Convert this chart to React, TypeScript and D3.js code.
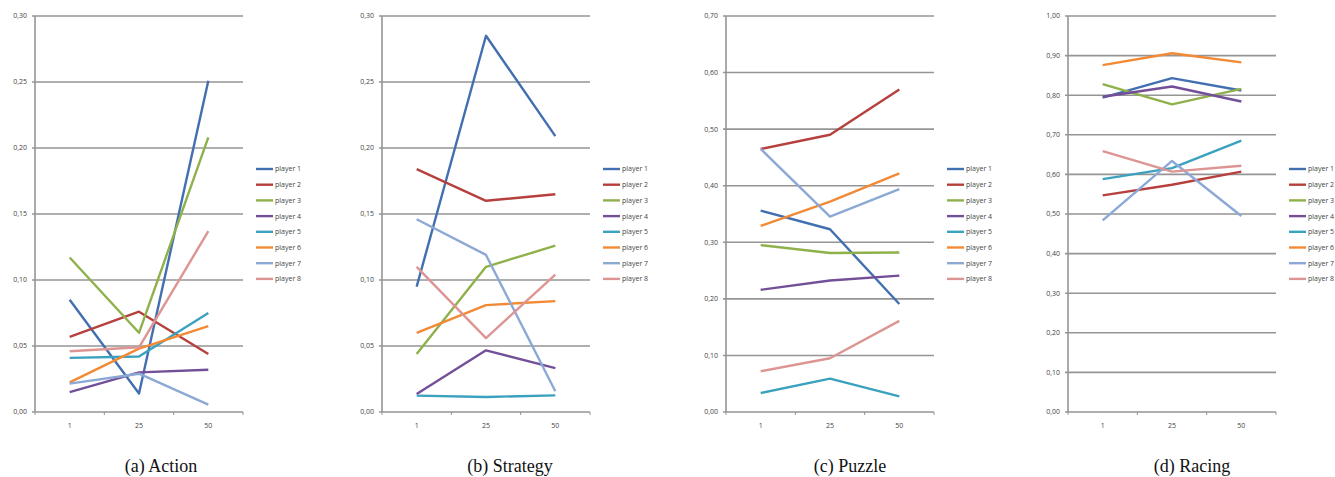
import React, { useEffect, useRef } from "react";
import * as d3 from "d3";

// x categories (rounds)
const rounds = ["1", "25", "50"];
const players = ["player 1", "player 2", "player 3", "player 4", "player 5", "player 6", "player 7", "player 8"];
const colors = ["#426FB0", "#B6403D", "#8FB14B", "#734F98", "#3AA1BE", "#F28A35", "#8CA9D6", "#DD9593"];

// values per player, one row per player: [round 1, round 25, round 50]
const actionValues = [
  [0.085, 0.014, 0.251],
  [0.057, 0.076, 0.044],
  [0.117, 0.06, 0.208],
  [0.015, 0.03, 0.032],
  [0.041, 0.042, 0.075],
  [0.0225, 0.048, 0.065],
  [0.0215, 0.029, 0.0056],
  [0.046, 0.049, 0.137],
];
const strategyValues = [
  [0.095, 0.285, 0.209],
  [0.184, 0.16, 0.165],
  [0.044, 0.11, 0.126],
  [0.0136, 0.0467, 0.0333],
  [0.0124, 0.0114, 0.0126],
  [0.06, 0.081, 0.084],
  [0.146, 0.119, 0.0157],
  [0.11, 0.056, 0.104],
];
const puzzleValues = [
  [0.356, 0.323, 0.191],
  [0.465, 0.49, 0.57],
  [0.295, 0.281, 0.282],
  [0.216, 0.2325, 0.241],
  [0.0335, 0.059, 0.0277],
  [0.329, 0.372, 0.422],
  [0.465, 0.3455, 0.394],
  [0.072, 0.095, 0.161],
];
const racingValues = [
  [0.794, 0.843, 0.812],
  [0.547, 0.574, 0.607],
  [0.828, 0.777, 0.816],
  [0.796, 0.822, 0.784],
  [0.588, 0.616, 0.685],
  [0.876, 0.906, 0.883],
  [0.484, 0.634, 0.495],
  [0.659, 0.607, 0.622],
];

const captions = ["(a) Action", "(b) Strategy", "(c) Puzzle", "(d) Racing"];
const yMaxes = [0.3, 0.3, 0.7, 1.0];
const yStepss = [0.05, 0.05, 0.1, 0.1];

const App = () => {
  const ref = useRef<SVGSVGElement>(null);

  useEffect(() => {
    const svg = d3.select(ref.current);
    svg.selectAll("*").remove();

    const allValues = [actionValues, strategyValues, puzzleValues, racingValues];
    const axisXs = [35, 382, 726, 1068];
    const captionXs = [161, 510, 850, 1192];
    const plotW = 208;
    const top = 16;
    const bottom = 412;
    const fmt = (v: number) => d3.format(".2f")(v).replace(".", ",");
    const font = "'Open Sans', 'Liberation Sans', sans-serif";

    allValues.forEach((values, i) => {
      const x0 = axisXs[i];
      const g = svg.append("g");

      const x = d3.scaleBand().domain(rounds).range([x0, x0 + plotW]);
      const y = d3.scaleLinear().domain([0, yMaxes[i]]).range([bottom, top]);
      const ticks = d3.range(0, yMaxes[i] + yStepss[i] / 2, yStepss[i]);

      // gridlines
      g.append("g")
        .selectAll("line")
        .data(ticks)
        .join("line")
        .attr("x1", x0 - 3)
        .attr("x2", x0 + plotW)
        .attr("y1", (d) => y(d))
        .attr("y2", (d) => y(d))
        .attr("stroke", "#959595")
        .attr("stroke-width", 1.6);

      // y axis line
      g.append("line")
        .attr("x1", x0)
        .attr("x2", x0)
        .attr("y1", top)
        .attr("y2", bottom)
        .attr("stroke", "#959595")
        .attr("stroke-width", 1.6);

      // x tick marks at band boundaries
      const bounds = rounds.map((r) => x(r)!).concat([x0 + plotW]);
      g.append("g")
        .selectAll("line")
        .data(bounds)
        .join("line")
        .attr("x1", (d) => d)
        .attr("x2", (d) => d)
        .attr("y1", bottom)
        .attr("y2", bottom + 3)
        .attr("stroke", "#959595")
        .attr("stroke-width", 1);

      // y labels
      g.append("g")
        .selectAll("text")
        .data(ticks)
        .join("text")
        .attr("x", x0 - 8)
        .attr("y", (d) => y(d))
        .attr("dy", "0.35em")
        .attr("text-anchor", "end")
        .style("font", `7px ${font}`)
        .attr("fill", "#444")
        .text((d) => fmt(d));

      // x labels
      g.append("g")
        .selectAll("text")
        .data(rounds)
        .join("text")
        .attr("x", (d) => x(d)! + x.bandwidth() / 2)
        .attr("y", 428)
        .attr("text-anchor", "middle")
        .style("font", `7px ${font}`)
        .attr("fill", "#444")
        .text((d) => d);

      // series
      const line = d3
        .line<number>()
        .x((_, j) => x(rounds[j])! + x.bandwidth() / 2)
        .y((d) => y(d));

      g.append("g")
        .selectAll("path")
        .data(values)
        .join("path")
        .attr("d", (d) => line(d))
        .attr("fill", "none")
        .attr("stroke", (_, j) => colors[j])
        .attr("stroke-width", 2.4)
        .attr("stroke-linejoin", "round");

      // legend
      const lg = g
        .append("g")
        .selectAll("g")
        .data(players)
        .join("g")
        .attr("transform", (_, j) => `translate(${x0 + 221},${169 + j * 15.7})`);
      lg.append("line")
        .attr("x1", 0)
        .attr("x2", 17)
        .attr("stroke", (_, j) => colors[j])
        .attr("stroke-width", 2.4);
      lg.append("text")
        .attr("x", 19)
        .attr("dy", "0.35em")
        .style("font", `7px ${font}`)
        .attr("fill", "#444")
        .text((d) => d);

      // caption
      svg
        .append("text")
        .attr("x", captionXs[i])
        .attr("y", 472)
        .attr("text-anchor", "middle")
        .style("font", "18px 'Liberation Serif', 'DejaVu Serif', serif")
        .attr("fill", "#111")
        .text(captions[i]);
    });
  }, []);

  return (
    <svg
      ref={ref}
      width={1335}
      height={477}
      style={{ position: "absolute", left: 0, top: 0, background: "#fff" }}
    />
  );
};

export default App;
